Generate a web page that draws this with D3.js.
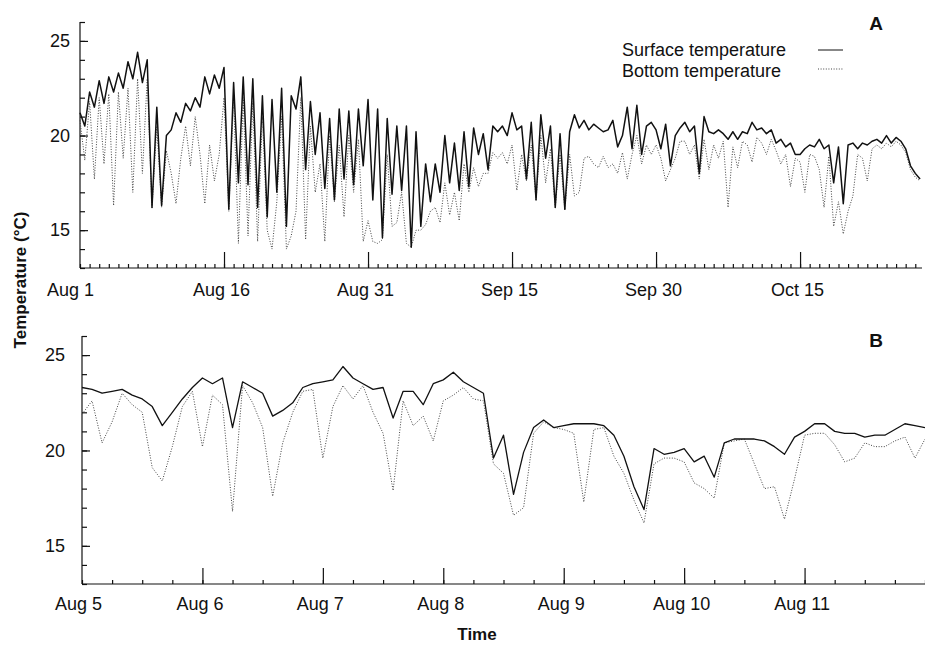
<!DOCTYPE html>
<html lang="en">
<head>
<meta charset="UTF-8">
<title>Surface and bottom temperature</title>
<script src="https://cdn.jsdelivr.net/npm/d3@7"></script>
<style>
  body{margin:0;background:#fff;}
  svg{display:block;}
  text{font-family:"Liberation Sans",Arial,Helvetica,sans-serif;fill:#111;}
  .axis path,.axis line{stroke:#111;stroke-width:1.2;}
  .axis text{font-size:18px;}
  .surf{fill:none;stroke:#111;stroke-width:1.3;stroke-linejoin:round;}
  .bot{fill:none;stroke:#444;stroke-width:1;stroke-dasharray:1 1.6;}
  .bold{font-weight:bold;}
</style>
</head>
<body>
<svg id="chart" width="925" height="646"></svg>
<script>
// panel A: readings every half day from Aug 1
var surfaceA = [
  21.2,20.5, 22.3,21.5, 22.9,21.7, 23.1,22.3, 23.3,22.5, 23.9,23.0, 24.4,22.8, 24.0,16.2, 21.5,16.3, 20.0,20.3,
  21.2,20.7, 21.7,21.3, 22.0,21.5, 23.1,22.2, 23.2,22.5, 23.6,16.1, 22.8,17.5, 23.1,17.4, 23.0,16.2, 22.1,15.7,
  21.9,17.0, 22.5,15.2, 22.1,21.4, 23.1,18.2, 21.8,19.0, 21.2,17.2, 20.9,16.6, 21.4,17.7, 21.3,17.4, 21.4,18.4,
  21.9,16.6, 21.4,14.6, 20.9,16.9, 20.5,17.1, 20.5,14.1, 20.2,15.2, 18.5,16.5, 18.5,17.0, 20.0,17.5, 19.6,17.1,
  20.2,17.3, 20.4,19.0, 20.1,18.2, 20.5,20.2, 20.5,20.0, 21.2,20.3, 20.5,17.7, 20.7,16.6, 21.1,18.8, 20.5,16.2,
  20.1,16.1, 20.2,21.1, 20.4,20.8, 20.3,20.6, 20.4,20.2, 20.3,20.8, 19.4,20.0, 21.5,19.3, 21.6,19.0, 20.5,20.7,
  20.3,19.3, 20.6,18.4, 20.0,20.4, 20.7,20.2, 20.5,18.0, 21.0,20.2, 20.1,20.3, 20.1,19.8, 20.2,19.8, 20.2,20.1,
  20.7,20.3, 20.4,20.1, 20.3,19.6, 19.8,19.4, 19.6,19.0, 19.0,19.3, 19.5,19.4, 19.8,19.3, 19.5,17.5, 19.4,16.4,
  19.5,19.6, 19.3,19.6, 19.5,19.7, 19.8,19.6, 20.0,19.6, 19.9,19.7, 19.3,18.4, 18.0,17.7
];
var bottomA = [
  20.8,18.7, 21.8,17.7, 22.0,18.5, 22.2,16.3, 22.3,18.8, 22.5,17.0, 23.0,18.0, 23.0,16.2, 20.5,16.2, 19.2,18.0,
  16.4,18.8, 20.5,18.4, 21.0,19.0, 16.4,19.5, 17.6,19.0, 22.0,16.0, 22.0,14.3, 22.0,14.7, 21.8,14.4, 21.0,15.0,
  14.0,16.5, 21.0,14.0, 14.7,16.0, 22.0,14.5, 20.5,17.0, 18.5,14.4, 20.0,16.5, 19.5,15.7, 20.0,17.0, 19.8,14.4,
  15.5,14.4, 14.3,14.5, 19.0,15.2, 15.4,17.0, 14.3,14.1, 15.0,15.0, 15.3,16.0, 16.2,15.4, 17.5,15.8, 17.0,15.5,
  18.5,17.0, 18.3,17.3, 18.0,18.0, 19.1,18.8, 19.1,18.5, 19.5,17.1, 19.0,17.6, 19.5,16.6, 20.0,17.5, 19.3,16.2,
  19.0,16.1, 19.0,16.8, 17.0,18.8, 18.9,18.5, 18.3,18.9, 18.3,18.5, 18.0,19.1, 17.7,19.0, 20.0,18.5, 19.5,19.0,
  19.5,18.8, 17.6,18.2, 18.8,19.7, 19.7,19.0, 19.5,17.7, 19.8,18.2, 19.5,18.8, 19.7,16.2, 19.4,18.3, 19.7,19.5,
  18.6,19.9, 19.6,19.0, 19.8,19.2, 18.5,19.0, 17.3,18.8, 18.6,17.0, 19.0,18.9, 18.2,16.2, 18.9,15.2, 16.5,14.8,
  16.0,16.8, 19.0,18.8, 17.6,19.3, 19.5,19.3, 19.6,19.4, 19.7,19.5, 19.1,18.2, 17.8,17.6
];
// panel B: readings every 2 hours from Aug 5 00:00
var surfaceB = [
  23.3,23.2,23.0,23.1,23.2,22.9,22.7,22.3,21.3,22.0,
  22.7,23.3,23.8,23.5,23.8,21.2,23.6,23.3,23.0,21.8,
  22.1,22.5,23.3,23.5,23.6,23.7,24.4,23.8,23.5,23.2,
  23.3,21.7,23.1,23.1,22.4,23.5,23.7,24.1,23.6,23.3,
  23.0,19.6,20.8,17.7,19.9,21.2,21.6,21.2,21.3,21.4,
  21.4,21.4,21.3,20.8,19.7,18.1,16.9,20.1,19.8,19.9,
  20.1,19.4,19.7,18.6,20.4,20.6,20.6,20.6,20.5,20.2,
  19.8,20.7,21.0,21.4,21.4,21.0,20.9,20.9,20.7,20.8,
  20.8,21.1,21.4,21.3,21.2
];
var bottomB = [
  21.9,22.6,20.4,21.5,23.0,22.4,22.0,19.1,18.4,20.2,
  22.3,23.1,20.2,22.9,22.4,16.8,23.4,22.5,21.2,17.6,
  20.4,22.0,23.1,23.2,19.6,22.3,23.4,22.7,23.4,22.0,
  20.9,17.9,22.6,21.3,21.8,20.5,22.6,22.9,23.3,22.7,
  22.6,19.3,18.8,16.6,17.0,20.9,21.5,21.2,21.1,20.9,
  17.3,21.1,21.2,19.7,18.8,17.4,16.2,19.3,19.6,19.6,
  19.4,18.3,18.0,17.5,20.4,20.5,20.6,19.3,18.0,18.1,
  16.4,18.5,20.8,20.9,20.9,20.3,19.4,19.6,20.4,20.2,
  20.2,20.5,20.7,19.6,20.6
];
var tickLabelsA = ["Aug 1","Aug 16","Aug 31","Sep 15","Sep 30","Oct 15"];
var tickDaysA = [0,15,30,45,60,75];
var tickLabelsB = ["Aug 5","Aug 6","Aug 7","Aug 8","Aug 9","Aug 10","Aug 11"];
var tickDaysB = [0,1,2,3,4,5,6];
var yTickValues = [15,20,25];
var seriesNames = ["Surface temperature","Bottom temperature"];

var svg = d3.select("#chart");
var DAY = 864e5, HOUR = 36e5;
var startA = Date.UTC(1990,7,1), startB = Date.UTC(1990,7,5);

function panel(o){
  var x = d3.scaleUtc().domain([new Date(o.start), new Date(o.start + o.span)]).range([o.x0, o.x1]);
  var y = d3.scaleLinear().domain([13,26]).range([o.y1, o.y0]);
  var g = svg.append("g");

  // minor x ticks
  g.append("g").attr("class","axis").attr("transform","translate(0,"+o.y1+")")
    .call(d3.axisBottom(x).tickValues(o.minor.range(new Date(o.start), new Date(o.start+o.span+1)))
      .tickSize(-4).tickFormat("")).call(s=>s.select(".domain").remove());
  // major x ticks with labels
  var xa = g.append("g").attr("class","axis").attr("transform","translate(0,"+o.y1+")")
    .call(d3.axisBottom(x).tickValues(o.tickDays.map(d=>new Date(o.start + d*DAY)))
      .tickSizeInner(-16).tickSizeOuter(0).tickPadding(o.xPad)
      .tickFormat((d,i)=>o.tickLabels[i]));
  xa.selectAll("text").attr("dx",(d,i)=> i===0 ? o.firstDx : -3);
  xa.select(".domain").attr("d","M"+o.x0+",0H"+o.x1);
  xa.selectAll(".tick").filter((d,i)=>i===0).select("line").remove();

  // y ticks
  g.append("g").attr("class","axis").attr("transform","translate("+o.x0+",0)")
    .call(d3.axisLeft(y).tickValues(d3.range(13,27)).tickSize(-5).tickFormat(""))
    .call(s=>s.select(".domain").remove());
  var ya = g.append("g").attr("class","axis").attr("transform","translate("+o.x0+",0)")
    .call(d3.axisLeft(y).tickValues(yTickValues).tickSizeInner(-8).tickSizeOuter(0).tickPadding(o.yPad));
  ya.select(".domain").attr("d","M0,"+o.y0+"V"+o.y1);

  var line = d3.line().x((d,i)=>x(new Date(o.start + i*o.step))).y(d=>y(d));
  g.append("path").attr("class","bot").attr("d", line(o.bottom));
  g.append("path").attr("class","surf").style("stroke-width",o.surfWidth).attr("d", line(o.surface));

  g.append("text").attr("class","bold").attr("x",876).attr("y",o.letterY)
    .attr("text-anchor","middle").style("font-size","19px").text(o.letter);
}

panel({start:startA, span:87.7*DAY, x0:80, x1:922, y0:22, y1:268, step:DAY/2,
  surface:surfaceA, bottom:bottomA, minor:d3.utcDay, tickDays:tickDaysA, tickLabels:tickLabelsA,
  xPad:15, yPad:10, firstDx:-10, surfWidth:1.5, letter:"A", letterY:30});
panel({start:startB, span:7*DAY, x0:82, x1:925, y0:336, y1:584, step:2*HOUR,
  surface:surfaceB, bottom:bottomB, minor:d3.utcHour.every(6), tickDays:tickDaysB, tickLabels:tickLabelsB,
  xPad:13, yPad:17, firstDx:-4, surfWidth:1.3, letter:"B", letterY:347});

// legend
var leg = svg.append("g");
seriesNames.forEach(function(n,i){
  leg.append("text").attr("x",622).attr("y",56+i*21).style("font-size","18px").text(n);
  leg.append("line").attr("class", i===0 ? "surf" : "bot")
    .attr("x1",818).attr("x2",843).attr("y1",50+i*19).attr("y2",50+i*19)
    .style("stroke-width", i===0 ? 1 : 1.2);
});

// axis titles
svg.append("text").attr("class","bold").attr("transform","translate(26,280) rotate(-90)")
  .attr("text-anchor","middle").style("font-size","17px").text("Temperature (°C)");
svg.append("text").attr("class","bold").attr("x",477).attr("y",640)
  .attr("text-anchor","middle").style("font-size","17px").text("Time");
</script>
</body>
</html>
